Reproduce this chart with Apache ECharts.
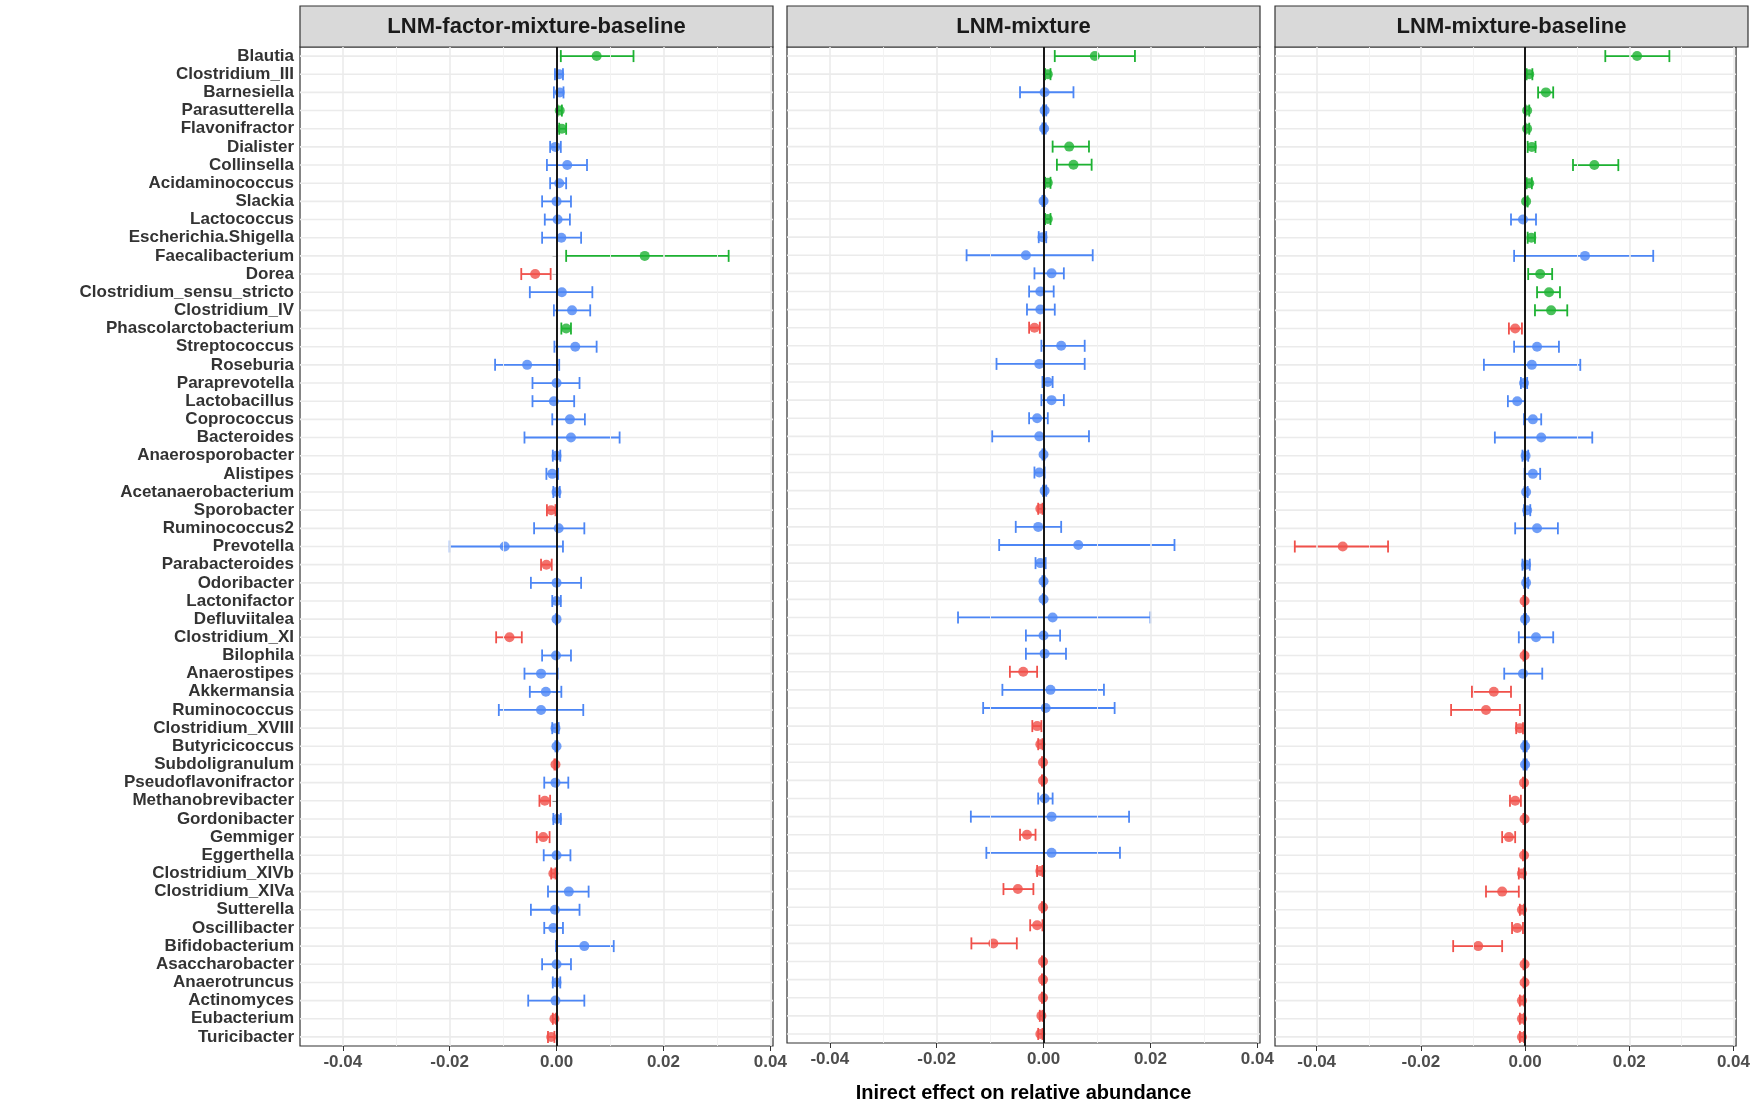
<!DOCTYPE html>
<html>
<head>
<meta charset="utf-8">
<title>Indirect effects</title>
<script src="https://cdn.jsdelivr.net/npm/echarts@6/dist/echarts.min.js"></script>
<style>
  html, body { margin: 0; padding: 0; background: #fff; }
  #chart { width: 1753px; height: 1108px; }
</style>
</head>
<body>
<div id="chart"></div>
<script>
// taxa, top to bottom
var taxa = ['Blautia','Clostridium_III','Barnesiella','Parasutterella','Flavonifractor','Dialister','Collinsella','Acidaminococcus','Slackia','Lactococcus',
  'Escherichia.Shigella','Faecalibacterium','Dorea','Clostridium_sensu_stricto','Clostridium_IV','Phascolarctobacterium','Streptococcus','Roseburia','Paraprevotella','Lactobacillus',
  'Coprococcus','Bacteroides','Anaerosporobacter','Alistipes','Acetanaerobacterium','Sporobacter','Ruminococcus2','Prevotella','Parabacteroides','Odoribacter',
  'Lactonifactor','Defluviitalea','Clostridium_XI','Bilophila','Anaerostipes','Akkermansia','Ruminococcus','Clostridium_XVIII','Butyricicoccus','Subdoligranulum',
  'Pseudoflavonifractor','Methanobrevibacter','Gordonibacter','Gemmiger','Eggerthella','Clostridium_XIVb','Clostridium_XIVa','Sutterella','Oscillibacter','Bifidobacterium',
  'Asaccharobacter','Anaerotruncus','Actinomyces','Eubacterium','Turicibacter'];

var panelTitles = ['LNM-factor-mixture-baseline', 'LNM-mixture', 'LNM-mixture-baseline'];
var xTicks = [-0.04, -0.02, 0, 0.02, 0.04];
var xMinor = [-0.03, -0.01, 0.01, 0.03];

// panel 1: LNM-factor-mixture-baseline
var p1Est = [0.0075,0.0005,0.0006,0.0006,0.001,-0.0002,0.002,0.0005,0,0.0002,
  0.0009,0.0165,-0.004,0.001,0.0029,0.0018,0.0035,-0.0055,0,-0.0005,
  0.0025,0.0027,0,-0.0008,0,-0.001,0.0004,-0.0097,-0.0019,0,
  0,0,-0.0088,-0.0001,-0.0029,-0.002,-0.0029,-0.0002,0,-0.0002,
  -0.0002,-0.0022,0.0001,-0.0025,0,-0.0006,0.0023,-0.0003,-0.0006,0.0052,
  0,0,-0.0002,-0.0004,-0.001];
var p1Lo = [0.0008,-0.0003,-0.0005,0.0002,0.0005,-0.0012,-0.0018,-0.0012,-0.0027,-0.0022,
  -0.0027,0.0018,-0.0066,-0.005,-0.0005,0.0009,-0.0004,-0.0115,-0.0045,-0.0045,
  -0.0008,-0.006,-0.0007,-0.0019,-0.0006,-0.0018,-0.0042,-0.02,-0.0029,-0.0048,
  -0.0008,-0.0001,-0.0113,-0.0027,-0.006,-0.005,-0.0108,-0.0008,-0.0002,-0.0004,
  -0.0023,-0.0032,-0.0006,-0.0037,-0.0024,-0.001,-0.0016,-0.0048,-0.0023,-0.0001,
  -0.0027,-0.0007,-0.0053,-0.0007,-0.0016];
var p1Hi = [0.0144,0.0012,0.0013,0.001,0.0018,0.0008,0.0057,0.0018,0.0027,0.0025,
  0.0046,0.0322,-0.0011,0.0067,0.0063,0.0027,0.0075,0.0005,0.0043,0.0033,
  0.0053,0.0118,0.0007,0.0003,0.0006,-0.0002,0.0052,0.0012,-0.0009,0.0046,
  0.0008,0.0001,-0.0065,0.0027,0.0002,0.0009,0.005,0.0004,0.0002,-0.0001,
  0.0022,-0.0012,0.0008,-0.0013,0.0026,-0.0002,0.006,0.0043,0.0012,0.0107,
  0.0027,0.0007,0.0052,-0.0001,-0.0004];

// panel 2: LNM-mixture
var p2Est = [0.0096,0.0008,0.0002,0.0002,0.0001,0.0048,0.0056,0.0008,0,0.0008,
  -0.0002,-0.0033,0.0015,-0.0006,-0.0006,-0.0017,0.0033,-0.0008,0.0008,0.0015,
  -0.0012,-0.0008,0,-0.0008,0.0002,-0.0006,-0.001,0.0065,-0.0006,0,
  0,0.0017,0,0.0002,-0.0038,0.0013,0.0004,-0.0012,-0.0006,-0.0001,
  -0.0001,0.0002,0.0015,-0.0031,0.0015,-0.0006,-0.0048,-0.0001,-0.0012,-0.0094,
  -0.0001,-0.0001,-0.0001,-0.0004,-0.0006];
var p2Lo = [0.0021,0.0003,-0.0044,-0.0001,-0.0002,0.0017,0.0025,0.0003,-0.0002,0.0003,
  -0.0009,-0.0144,-0.0017,-0.0027,-0.0031,-0.0027,-0.0004,-0.0088,-0.0002,-0.0004,
  -0.0027,-0.0096,-0.0002,-0.0017,-0.0001,-0.001,-0.0052,-0.0083,-0.0015,-0.0002,
  -0.0001,-0.016,-0.0033,-0.0033,-0.0063,-0.0077,-0.0113,-0.0021,-0.001,-0.0003,
  -0.0003,-0.001,-0.0136,-0.0044,-0.0107,-0.0012,-0.0075,-0.0003,-0.0025,-0.0135,
  -0.0003,-0.0003,-0.0003,-0.0007,-0.001];
var p2Hi = [0.0171,0.0013,0.0056,0.0005,0.0004,0.0085,0.009,0.0013,0.0002,0.0013,
  0.0005,0.0092,0.0038,0.0019,0.0021,-0.0007,0.0077,0.0077,0.0017,0.0038,
  0.0008,0.0085,0.0002,0.0002,0.0005,-0.0002,0.0033,0.0245,0.0004,0.0002,
  0.0001,0.02,0.0031,0.0042,-0.0012,0.0113,0.0133,-0.0004,-0.0002,-0.00003,
  -0.00003,0.0017,0.016,-0.0015,0.0143,-0.0002,-0.0019,-0.00003,-0.0002,-0.005,
  -0.00003,-0.00003,-0.00003,-0.0002,-0.0002];

// panel 3: LNM-mixture-baseline
var p3Est = [0.0215,0.0008,0.004,0.0004,0.0004,0.0013,0.0133,0.0008,0.0002,-0.0004,
  0.0012,0.0115,0.0029,0.0046,0.005,-0.0019,0.0023,0.0013,-0.0002,-0.0015,
  0.0015,0.0031,0.0001,0.0015,0.0002,0.0004,0.0023,-0.035,0.0002,0.0002,
  -0.0001,0,0.0021,-0.0001,-0.0004,-0.006,-0.0075,-0.001,0,0,
  -0.0002,-0.0019,-0.0001,-0.0031,-0.0002,-0.0006,-0.0044,-0.0006,-0.0015,-0.009,
  -0.0001,-0.0001,-0.0006,-0.0006,-0.0006];
var p3Lo = [0.0154,0.0003,0.0025,0.0001,0.0001,0.0005,0.0092,0.0003,0.00005,-0.0027,
  0.0005,-0.0021,0.0006,0.0023,0.0019,-0.0031,-0.0021,-0.0079,-0.0008,-0.0033,
  -0.0002,-0.0058,-0.0005,-0.0001,-0.0001,-0.0002,-0.0019,-0.0442,-0.0005,-0.0002,
  -0.0003,-0.0002,-0.0012,-0.0003,-0.004,-0.0102,-0.0142,-0.0017,-0.0003,-0.0003,
  -0.0004,-0.0029,-0.0003,-0.0044,-0.0004,-0.0012,-0.0075,-0.001,-0.0025,-0.0138,
  -0.0003,-0.0003,-0.001,-0.001,-0.001];
var p3Hi = [0.0277,0.0014,0.0054,0.0008,0.0008,0.002,0.0179,0.0013,0.0005,0.0021,
  0.0019,0.0246,0.0052,0.0067,0.0081,-0.0006,0.0065,0.0106,0.0004,0,
  0.0031,0.0129,0.0006,0.0029,0.0005,0.001,0.0063,-0.0263,0.0009,0.0006,
  -0.00003,0.0002,0.0054,-0.00003,0.0033,-0.0027,-0.001,-0.0004,0.0003,0.0003,
  -0.00005,-0.0008,-0.00003,-0.0019,-0.00005,-0.0002,-0.0012,-0.0002,-0.0004,-0.0044,
  -0.00003,-0.00003,-0.0002,-0.0002,-0.0002];

var panels = [[p1Est, p1Lo, p1Hi], [p2Est, p2Lo, p2Hi], [p3Est, p3Lo, p3Hi]];

// colour: green = interval above 0, red = below 0, blue = spans 0
function colorFor(lo, hi) {
  if (lo > 0) return '#1DB232';
  if (hi < 0) return '#F0504A';
  return '#4C86F5';
}

var chart = echarts.init(document.getElementById('chart'));

var gridLeft = [300, 787, 1275];
var gridW = 473, gridTop = 47, gridH = 999;

var grids = [], xAxes = [], yAxes = [], series = [], graphics = [];

panels.forEach(function (p, g) {
  var est = p[0], lo = p[1], hi = p[2];
  grids.push({ left: gridLeft[g], top: gridTop, width: gridW, height: gridH,
    show: true, borderColor: '#333', borderWidth: 1.2, backgroundColor: '#fff' });
  xAxes.push({
    gridIndex: g, type: 'value', min: -0.048, max: 0.0405,
    axisLine: { show: false },
    splitLine: { show: false },
    axisTick: { show: true, customValues: xTicks, length: 5, lineStyle: { color: '#333' } },
    axisLabel: {
      customValues: xTicks, color: '#4d4d4d', fontSize: 17, fontWeight: 'bold',
      fontFamily: 'Liberation Sans', margin: 8,
      formatter: function (v) { return v.toFixed(2); }
    },
    name: g === 1 ? 'Inirect effect on relative abundance' : '',
    nameLocation: 'middle', nameGap: 40,
    nameTextStyle: { fontSize: 20, fontWeight: 'bold', color: '#000', fontFamily: 'Liberation Sans' }
  });
  yAxes.push({
    gridIndex: g, type: 'category', data: taxa, inverse: true,
    axisLine: { show: false },
    axisTick: { show: g === 0, alignWithLabel: true, length: 4, lineStyle: { color: '#333' } },
    axisLabel: { show: g === 0, interval: 0, color: '#333', fontSize: 17, fontWeight: 'bold',
      fontFamily: 'Liberation Sans', margin: 6 },
    splitLine: { show: false }
  });

  // background grid lines
  series.push({
    type: 'custom', xAxisIndex: g, yAxisIndex: g, silent: true, z: 1,
    data: taxa.map(function (t, i) { return [0, i]; }),
    renderItem: function (params, api) {
      var c = api.coord([0, api.value(1)]);
      var cs = params.coordSys;
      return { type: 'line', shape: { x1: cs.x, y1: c[1], x2: cs.x + cs.width, y2: c[1] },
        style: { stroke: '#ebebeb', lineWidth: 1.6 } };
    },
    markLine: {
      silent: true, symbol: 'none', label: { show: false }, animation: false,
      data: xTicks.map(function (v) { return { xAxis: v, lineStyle: { color: '#ebebeb', width: 1.6, type: 'solid' } }; })
        .concat(xMinor.map(function (v) { return { xAxis: v, lineStyle: { color: '#f2f2f2', width: 0.9, type: 'solid' } }; }))
    }
  });

  // zero line
  series.push({
    type: 'custom', xAxisIndex: g, yAxisIndex: g, silent: true, z: 2,
    data: [], renderItem: function () { return null; },
    markLine: { silent: true, symbol: 'none', label: { show: false }, animation: false,
      data: [{ xAxis: 0 }], lineStyle: { color: '#000', width: 1.8, type: 'solid' } }
  });

  // error bars
  series.push({
    type: 'custom', xAxisIndex: g, yAxisIndex: g, z: 3,
    data: taxa.map(function (t, i) { return [lo[i], hi[i], i]; }),
    renderItem: function (params, api) {
      var a = api.coord([api.value(0), api.value(2)]);
      var b = api.coord([api.value(1), api.value(2)]);
      var col = colorFor(api.value(0), api.value(1));
      var h = 6, st = { stroke: col, lineWidth: 1.8 };
      return { type: 'group', children: [
        { type: 'line', shape: { x1: a[0], y1: a[1], x2: b[0], y2: b[1] }, style: st },
        { type: 'line', shape: { x1: a[0], y1: a[1] - h, x2: a[0], y2: a[1] + h }, style: st },
        { type: 'line', shape: { x1: b[0], y1: b[1] - h, x2: b[0], y2: b[1] + h }, style: st }
      ] };
    }
  });

  // point estimates
  series.push({
    type: 'scatter', xAxisIndex: g, yAxisIndex: g, z: 4, symbolSize: 10,
    data: taxa.map(function (t, i) {
      return { value: [est[i], i], itemStyle: { color: colorFor(lo[i], hi[i]) } };
    })
  });

  // facet strip
  graphics.push({ type: 'rect', shape: { x: gridLeft[g], y: 6, width: gridW, height: 41 },
    style: { fill: '#d9d9d9', stroke: '#333', lineWidth: 1.2 } });
  graphics.push({ type: 'text', x: gridLeft[g] + gridW / 2, y: 26.5,
    style: { text: panelTitles[g], fill: '#1a1a1a', fontSize: 22, fontWeight: 'bold',
      fontFamily: 'Liberation Sans', align: 'center', verticalAlign: 'middle' } });
});

chart.setOption({
  animation: false,
  grid: grids, xAxis: xAxes, yAxis: yAxes, series: series, graphic: graphics
});
</script>
</body>
</html>
